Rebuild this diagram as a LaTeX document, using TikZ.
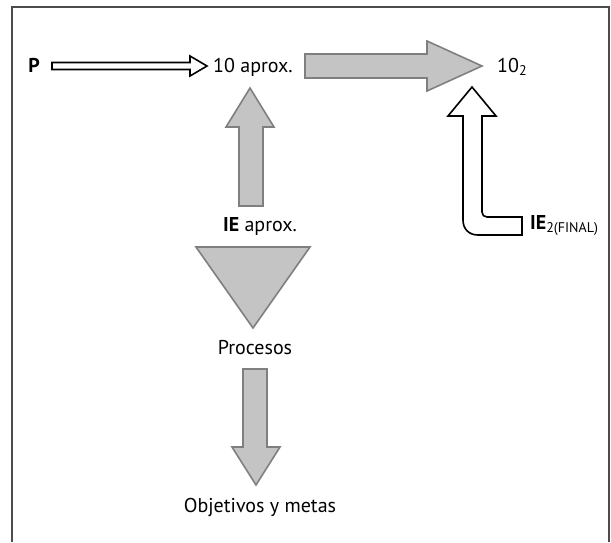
\documentclass[tikz,border=0pt]{standalone}
\usepackage{fontspec}
\setmainfont{PT Sans}
\begin{document}
\begin{tikzpicture}[x = 1pt, y = -1pt,
		grayArrow/.style = {fill = arrowFill, draw = arrowLine, line width = 1.6pt},
		whiteArrow/.style = {fill = white, draw = black, line width = 1.6pt},
		label/.style = {font = \fontsize{20}{24}\selectfont, inner sep = 0pt, anchor = base}]
			\definecolor{arrowFill}{HTML}{C4C4C4}
			\definecolor{arrowLine}{HTML}{7F7F7F}
			\useasboundingbox (0,0) rectangle (611,542);
			\draw[black!70, line width = 1.3pt] (12,542) -- (12,7) -- (609,7) -- (609,542);
			
			\node[label, font = \fontsize{20}{24}\selectfont\bfseries] (p) at (34,72) {P};
			\node[label, anchor = base west] (aprox) at (213,72) {10 aprox.};
			\node[label, anchor = base west] (diez) at (497,72) {10\textsubscript{2}};
			\node[label] (ie) at (260,231) {\textbf{IE} aprox.};
			\node[label] (procesos) at (255,354) {Procesos};
			\node[label] (metas) at (260,512) {Objetivos y metas};
			\node[label, anchor = base west] (iefinal) at (530,229) {\textbf{IE}\textsubscript{2(FINAL)}};
			
			\draw[whiteArrow] (52,62.5) -- (190,62.5) -- (190,56) -- (207,66) -- (190,76) -- (190,69.5) -- (52,69.5) -- cycle;
			\draw[grayArrow] (305,54) -- (427,54) -- (427,41) -- (482,66) -- (427,91) -- (427,78) -- (305,78) -- cycle;
			\draw[grayArrow] (239,206) -- (239,127) -- (226,127) -- (250,88) -- (274,127) -- (263,127) -- (263,206) -- cycle;
			\draw[grayArrow] (196,247) -- (310,247) -- (253,328) -- cycle;
			\draw[grayArrow] (243,369) -- (267,369) -- (267,447) -- (280,447) -- (256,485) -- (232,447) -- (243,447) -- cycle;
			
			% returning arrow
			\draw[whiteArrow] (472,87) -- (496,116) -- (482,116) -- (482,212)
				.. controls (482,215) and (484,217) .. (487,217) -- (522,217) -- (522,235) -- (478,235)
				.. controls (469,235) and (463,229) .. (463,220) -- (463,116) -- (448,116) -- cycle;
		\end{tikzpicture}
\end{document}
